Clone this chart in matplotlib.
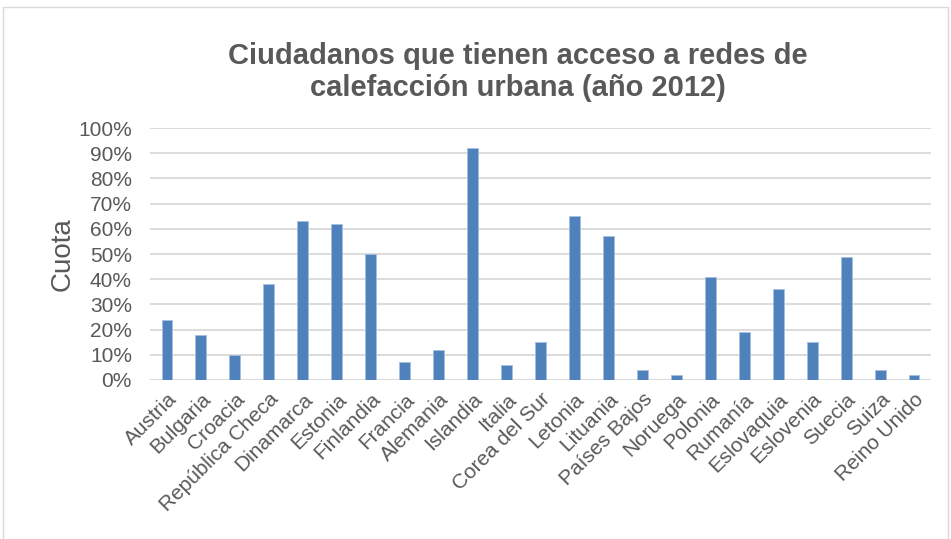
import matplotlib.pyplot as plt
from matplotlib.patches import Rectangle
from matplotlib.ticker import PercentFormatter

plt.rcParams['font.family'] = ['Liberation Sans', 'DejaVu Sans']

paises = ["Austria", "Bulgaria", "Croacia", "República Checa", "Dinamarca",
          "Estonia", "Finlandia", "Francia", "Alemania", "Islandia", "Italia",
          "Corea del Sur", "Letonia", "Lituania", "Países Bajos", "Noruega",
          "Polonia", "Rumanía", "Eslovaquia", "Eslovenia", "Suecia", "Suiza",
          "Reino Unido"]
cuota = [0.24, 0.18, 0.10, 0.38, 0.63, 0.62, 0.50, 0.07, 0.12, 0.92, 0.06,
         0.15, 0.65, 0.57, 0.04, 0.02, 0.41, 0.19, 0.36, 0.15, 0.49, 0.04,
         0.02]

gris = '#595959'

fig = plt.figure(figsize=(9.51, 5.39), dpi=100)
ax = fig.add_axes([0.1577, 0.295, 0.8213, 0.4675])

x = range(len(paises))
ax.bar(x, cuota, width=0.32, color='#4F81BD', edgecolor='#A7BFDE',
       linewidth=0.6, zorder=3)

ax.set_xlim(-0.5, len(paises) - 0.5)
ax.set_ylim(0, 1)
ax.set_yticks([i / 10 for i in range(11)])
ax.yaxis.set_major_formatter(PercentFormatter(1.0, decimals=0))
ax.grid(axis='y', color='#D9D9D9', linewidth=1.3, zorder=0)

ax.set_xticks(list(x))
ax.set_xticklabels(paises, rotation=45, ha='right', rotation_mode='anchor')
ax.tick_params(axis='both', length=0, colors=gris, labelsize=15)
ax.tick_params(axis='x', pad=7)
ax.tick_params(axis='y', pad=13)
for s in ax.spines.values():
    s.set_visible(False)

ax.set_ylabel("Cuota", fontsize=20, color=gris, labelpad=2)

fig.text(0.545, 0.866, "Ciudadanos que tienen acceso a redes de\ncalefacción urbana (año 2012)",
         ha='center', va='center', fontsize=21, fontweight='bold', color=gris,
         linespacing=1.2)

# marco del gráfico
fig.patches.append(Rectangle((3 / 951, -0.01), 945 / 951, 1 - 7 / 539 + 0.01,
                             transform=fig.transFigure, fill=False,
                             edgecolor='#D9D9D9', linewidth=1))

plt.savefig('out.png', dpi=100)
